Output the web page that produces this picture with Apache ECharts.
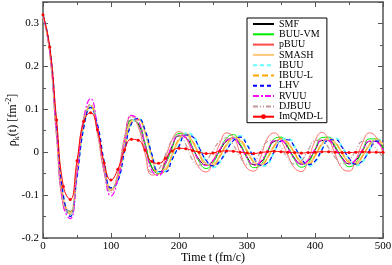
<!DOCTYPE html>
<html><head><meta charset="utf-8">
<script src="https://cdn.jsdelivr.net/npm/echarts@6/dist/echarts.min.js"></script>
<style>html,body{margin:0;padding:0;background:#fff}#c{width:392px;height:265px}</style>
</head><body><div id="c"></div><script>
const times = [0,10,20,30,40,50,60,70,80,90,100,110,120,130,140,150,160,170,180,190,200,210,220,230,240,250,260,270,280,290,300,310,320,330,340,350,360,370,380,390,400,410,420,430,440,450,460,470,480,490,500];
const xTicks = [0,100,200,300,400,500];
const yTicks = [-0.2,-0.1,0,0.1,0.2,0.3];
const seriesNames = ['SMF','BUU-VM','pBUU','SMASH','IBUU','IBUU-L','LHV','RVUU','DJBUU','ImQMD-L'];
const smf = [0.32,0.237,0.047,-0.114,-0.138,-0.042,0.073,0.108,0.052,-0.039,-0.088,-0.056,0.020,0.075,0.066,0.018,-0.036,-0.048,-0.024,0.014,0.038,0.034,0.009,-0.018,-0.030,-0.020,0.004,0.026,0.033,0.016,-0.011,-0.029,-0.024,0.001,0.025,0.028,0.011,-0.014,-0.028,-0.020,0.005,0.027,0.028,0.010,-0.013,-0.027,-0.019,0.004,0.025,0.025,0.008];
const buuVm = [0.32,0.236,0.045,-0.115,-0.139,-0.044,0.070,0.106,0.053,-0.036,-0.086,-0.058,0.017,0.074,0.068,0.022,-0.034,-0.050,-0.028,0.010,0.044,0.043,0.011,-0.023,-0.038,-0.025,0.005,0.033,0.041,0.020,-0.014,-0.036,-0.030,0.001,0.031,0.035,0.014,-0.018,-0.035,-0.025,0.006,0.034,0.035,0.013,-0.016,-0.034,-0.024,0.005,0.031,0.031,0.010];
const pbuu = [0.32,0.231,0.033,-0.127,-0.14,-0.033,0.080,0.106,0.043,-0.048,-0.090,-0.049,0.036,0.085,0.060,-0.003,-0.053,-0.051,-0.014,0.029,0.048,0.033,-0.003,-0.037,-0.046,-0.021,0.020,0.045,0.035,-0.002,-0.037,-0.044,-0.012,0.032,0.045,0.027,-0.007,-0.037,-0.045,-0.018,0.026,0.046,0.030,-0.006,-0.038,-0.044,-0.018,0.022,0.045,0.035,-0.002];
const smash = [0.32,0.238,0.049,-0.112,-0.142,-0.047,0.068,0.108,0.056,-0.034,-0.087,-0.060,0.014,0.072,0.077,0.046,-0.010,-0.047,-0.040,-0.006,0.029,0.040,0.024,-0.005,-0.026,-0.028,-0.009,0.017,0.032,0.027,0.003,-0.022,-0.029,-0.013,0.014,0.029,0.021,-0.002,-0.023,-0.026,-0.008,0.018,0.030,0.021,-0.002,-0.022,-0.025,-0.008,0.016,0.028,0.018];
const ibuu = [0.32,0.242,0.055,-0.105,-0.148,-0.055,0.06,0.106,0.062,-0.026,-0.085,-0.066,0.006,0.068,0.078,0.050,-0.006,-0.046,-0.044,-0.014,0.016,0.044,0.039,0.010,-0.021,-0.035,-0.023,0.005,0.030,0.038,0.018,-0.013,-0.033,-0.028,0.001,0.029,0.032,0.013,-0.016,-0.032,-0.023,0.006,0.031,0.032,0.012,-0.015,-0.031,-0.022,0.005,0.029,0.029];
const ibuuL = [0.32,0.24,0.052,-0.108,-0.145,-0.05,0.064,0.107,0.058,-0.03,-0.086,-0.062,0.01,0.07,0.076,0.048,-0.008,-0.050,-0.044,-0.007,0.032,0.044,0.026,-0.006,-0.029,-0.031,-0.010,0.019,0.035,0.030,0.003,-0.024,-0.032,-0.014,0.015,0.032,0.023,-0.002,-0.025,-0.029,-0.009,0.020,0.033,0.023,-0.002,-0.024,-0.028,-0.009,0.018,0.031,0.020];
const lhv = [0.32,0.243,0.058,-0.102,-0.15,-0.058,0.057,0.104,0.065,-0.022,-0.083,-0.068,0.003,0.066,0.079,0.052,-0.004,-0.045,-0.046,-0.017,0.014,0.040,0.036,0.009,-0.019,-0.032,-0.021,0.004,0.027,0.035,0.017,-0.012,-0.030,-0.025,0.001,0.026,0.029,0.012,-0.015,-0.029,-0.021,0.005,0.028,0.029,0.011,-0.014,-0.028,-0.020,0.004,0.026,0.026];
const rvuu = [0.32,0.235,0.042,-0.125,-0.155,-0.048,0.08,0.125,0.058,-0.044,-0.102,-0.064,0.024,0.086,0.074,0.018,-0.042,-0.054,-0.026,0.016,0.040,0.034,0.008,-0.020,-0.031,-0.019,0.006,0.028,0.032,0.014,-0.013,-0.030,-0.022,0.003,0.027,0.027,0.009,-0.016,-0.028,-0.018,0.007,0.028,0.027,0.008,-0.015,-0.027,-0.017,0.006,0.026,0.024,0.006];
const djbuu = [0.32,0.232,0.04,-0.12,-0.145,-0.038,0.08,0.112,0.048,-0.045,-0.094,-0.05,0.03,0.082,0.062,0.008,-0.047,-0.040,-0.006,0.029,0.040,0.018,-0.018,-0.030,-0.020,0.004,0.026,0.033,0.016,-0.011,-0.029,-0.024,0.001,0.025,0.028,0.011,-0.014,-0.028,-0.020,0.005,0.027,0.028,0.010,-0.013,-0.027,-0.019,0.004,0.025,0.025,0.008,-0.012];
const imqmdL = [0.32,0.245,0.075,-0.08,-0.11,-0.02,0.072,0.092,0.052,-0.025,-0.065,-0.04,0.005,0.03,0.028,0.005,-0.022,-0.026,-0.014,0.003,0.009,0.008,0.004,0.0,-0.003,-0.002,0.002,0.003,0.002,0.0,-0.002,-0.003,-0.001,0.001,0.002,0.001,0.0,-0.001,-0.002,-0.001,0.0,0.001,0.001,0.0,-0.001,-0.001,0.0,0.001,0.0,0.0,0.0];

const FONT = 'Liberation Serif';
const AX = '#555';
const styles = [
  {color:'#000000', width:1, type:'solid'},
  {color:'#00ee00', width:1, type:'solid'},
  {color:'#ff4a4a', width:0.8, type:'solid'},
  {color:'#ffc878', width:2, type:'solid'},
  {color:'#66ffff', width:2, type:[4,3]},
  {color:'#ffa500', width:1, type:[6,3]},
  {color:'#0000ff', width:1.2, type:[4,3]},
  {color:'#ff00ff', width:1.2, type:[6,2,2,2]},
  {color:'#c09a9a', width:1.2, type:[5,2,1,2,1,2]},
  {color:'#ff0000', width:1, type:'solid', sym:true}
];
const allData = [smf,buuVm,pbuu,smash,ibuu,ibuuL,lhv,rvuu,djbuu,imqmdL];

const series = seriesNames.map((n,k)=>({
  name:n, type:'line', smooth:true,
  data: times.map((t,i)=>[t, allData[k][i]]),
  symbol: styles[k].sym ? 'circle' : 'none',
  symbolSize: 3,
  showSymbol: !!styles[k].sym,
  itemStyle:{color:styles[k].color},
  lineStyle:{color:styles[k].color, width:styles[k].width, type:styles[k].type},
  xAxisIndex:0, yAxisIndex:0, z: 2 + k
}));

const legendData = seriesNames.map((n,k)=> styles[k].sym
  ? {name:n}
  : {name:n, itemStyle:{opacity:0, borderWidth:0}});

const axisCommon = {
  axisLine:{show:true, onZero:false, lineStyle:{color:AX, width:1.5}},
  axisTick:{show:true, inside:true, length:5, lineStyle:{color:AX, width:1}},
  minorTick:{show:true, splitNumber:2, length:3, lineStyle:{color:AX, width:1}},
  splitLine:{show:false}
};

const chart = echarts.init(document.getElementById('c'), null, {renderer:'canvas'});
chart.setOption({
  animation:false,
  backgroundColor:'#fff',
  grid:{left:43, right:9, top:2, bottom:27, containLabel:false, outerBoundsMode:'none'},
  legend:{
    orient:'vertical', left:247, top:18,
    padding:[1,4,1,5],
    borderColor:'#000', borderWidth:1, backgroundColor:'#fff',
    itemWidth:21, itemHeight:6, itemGap:0.3,
    textStyle:{fontFamily:FONT, fontSize:10, color:'#000', lineHeight:10},
    data: legendData
  },
  xAxis:[
    Object.assign({type:'value', min:xTicks[0], max:xTicks[xTicks.length-1], interval:100, position:'bottom',
      axisLabel:{fontFamily:FONT, fontSize:11, color:'#000', margin:3},
      name:'Time t (fm/c)', nameLocation:'middle', nameGap:14, nameMoveOverlap:false,
      nameTextStyle:{fontFamily:FONT, fontSize:12, color:'#000'}}, axisCommon),
    Object.assign({type:'value', min:0, max:500, interval:100, position:'top',
      axisLabel:{show:false}}, axisCommon)
  ],
  yAxis:[
    Object.assign({type:'value', min:yTicks[0], max:0.35, interval:0.1, position:'left',
      axisLabel:{fontFamily:FONT, fontSize:11, color:'#000', margin:4, showMaxLabel:false,
        formatter:v=> (Math.abs(v)<1e-9 ? '0' : (Math.round(v*10)/10).toString())},
      name:'{a|ρ}{s|k}{a|(t) [fm}{p|-2}{a|]}', nameLocation:'middle', nameGap:22, nameMoveOverlap:false,
      nameTextStyle:{fontFamily:FONT, color:'#000',
        rich:{
          a:{fontFamily:FONT, fontSize:12, color:'#000', lineHeight:16, verticalAlign:'middle'},
          s:{fontFamily:FONT, fontSize:8, color:'#000', lineHeight:16, verticalAlign:'bottom'},
          p:{fontFamily:FONT, fontSize:8, color:'#000', lineHeight:16, verticalAlign:'top'}
        }}}, axisCommon),
    Object.assign({type:'value', min:-0.2, max:0.35, interval:0.1, position:'right',
      axisLabel:{show:false}}, axisCommon)
  ],
  series: series
});
</script></body></html>
